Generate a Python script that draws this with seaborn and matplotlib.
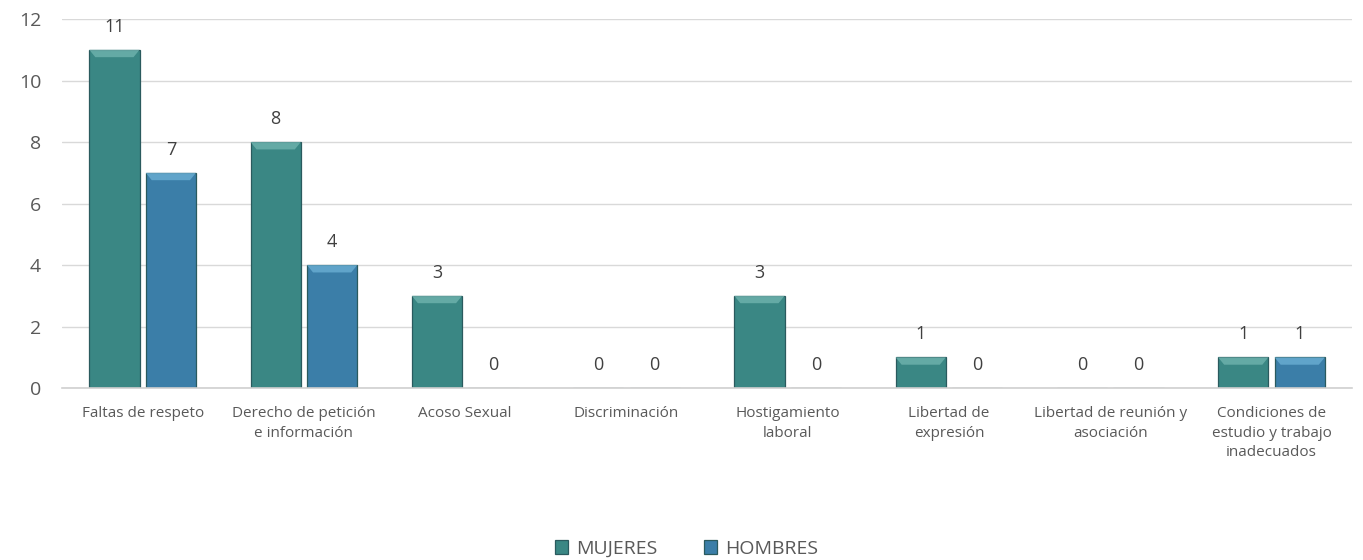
import numpy as np
import pandas as pd
import matplotlib
matplotlib.use("Agg")
import matplotlib.pyplot as plt
from matplotlib.patches import Polygon
import seaborn as sns

# DATA
categorias = ["Faltas de respeto", "Derecho de petición\ne información", "Acoso Sexual",
              "Discriminación", "Hostigamiento\nlaboral", "Libertad de\nexpresión",
              "Libertad de reunión y\nasociación", "Condiciones de\nestudio y trabajo\ninadecuados"]
mujeres = [11, 8, 3, 0, 3, 1, 0, 1]
hombres = [7, 4, 0, 0, 0, 0, 0, 1]
series = ["MUJERES", "HOMBRES"]
colores = ["#3a8784", "#3b7ea8"]
brillo = ["#6fb3ae", "#6aaed3"]

df = pd.DataFrame({
    "categoria": categorias * 2,
    "serie": [series[0]] * len(categorias) + [series[1]] * len(categorias),
    "valor": mujeres + hombres,
})

sns.set_theme(style="white")
plt.rcParams['font.family'] = ['Open Sans', 'DejaVu Sans']

fig = plt.figure(figsize=(13.63, 5.6), dpi=100)
ax = fig.add_axes([0.0455, 0.307, 0.9465, 0.659])

sns.barplot(data=df, x="categoria", y="valor", hue="serie", palette=colores,
            saturation=1, width=0.7, gap=0.11, ax=ax, edgecolor="#2a5a5e",
            linewidth=0.9, legend=True)

# bevel highlight on top + value labels
bev = 0.24
for cont, hl in zip(ax.containers, brillo):
    for bar in cont:
        h = bar.get_height()
        x0 = bar.get_x()
        w = bar.get_width()
        if h > 0:
            ins = w * 0.12
            ax.add_patch(Polygon([(x0, h), (x0 + w, h), (x0 + w - ins, h - bev),
                                  (x0 + ins, h - bev)], closed=True,
                                 facecolor=hl, edgecolor="none", alpha=0.8, zorder=3))
        ax.annotate(f"{int(h)}", (x0 + w / 2, h),
                    xytext=(0, 10), textcoords="offset points",
                    ha="center", va="bottom", fontsize=13, color="#404040")

ax.set_ylim(0, 12)
ax.set_yticks(range(0, 13, 2))
ax.yaxis.grid(True, color="#d9d9d9", linewidth=1)
ax.set_axisbelow(True)
for s in ["top", "right", "left"]:
    ax.spines[s].set_visible(False)
ax.spines["bottom"].set_color("#d0d0d0")
ax.spines["bottom"].set_linewidth(1.2)
ax.set_xlabel("")
ax.set_ylabel("")
ax.tick_params(axis="y", labelsize=14, labelcolor="#595959", length=0, pad=15)
ax.tick_params(axis="x", labelsize=11, labelcolor="#595959", length=0, pad=13)
for lbl in ax.get_xticklabels():
    lbl.set_linespacing(1.4)
ax.set_xlim(-0.5, len(categorias) - 0.5)

leg = ax.legend(loc="center", bbox_to_anchor=(0.484, -0.435), ncol=2, frameon=False,
                fontsize=14, handlelength=0.7, handleheight=0.7, columnspacing=2.4,
                handletextpad=0.4)
for t in leg.get_texts():
    t.set_color("#595959")

fig.savefig("out.png", dpi=100)
